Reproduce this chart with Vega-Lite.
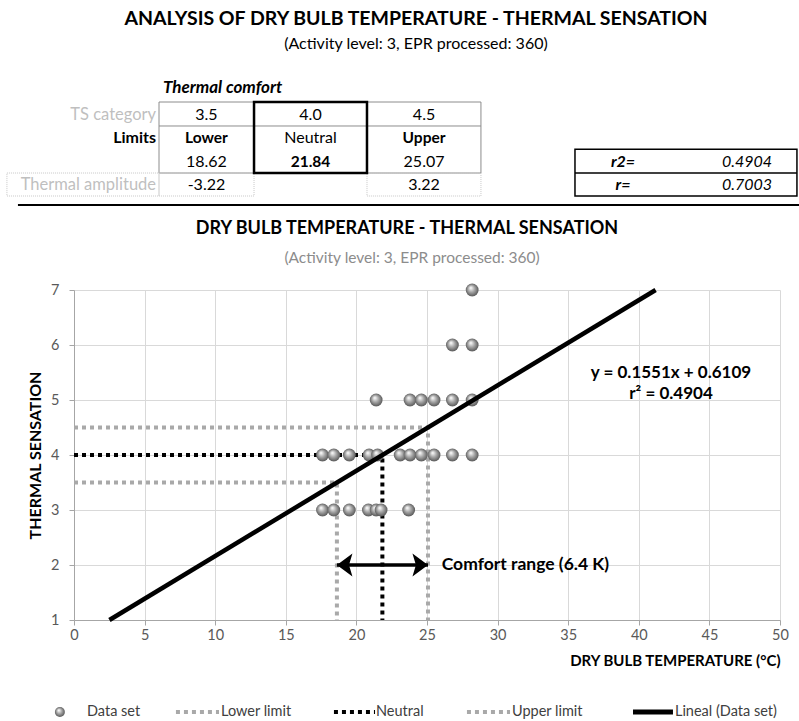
{
  "$schema": "https://vega.github.io/schema/vega-lite/v6.json",
  "width": 706,
  "height": 330,
  "autosize": {"type": "none"},
  "padding": {"left": 74, "top": 290, "right": 19, "bottom": 101},
  "background": "white",
  "config": {"font": "Lato", "view": {"stroke": null}},
  "encoding": {
    "x": {"field": "x", "type": "quantitative",
      "scale": {"domain": [0, 50], "nice": false, "zero": false},
      "axis": {"values": [0,5,10,15,20,25,30,35,40,45,50], "title": "DRY BULB TEMPERATURE (°C)",
        "titleFont": "Lato", "titleFontSize": 15, "titleFontWeight": "bold", "titleColor": "#000000",
        "titleAnchor": "end", "titlePadding": 12,
        "labelFontSize": 14.5, "labelColor": "#595959", "labelPadding": 3, "labelFlush": false,
        "tickSize": 5, "tickColor": "#a6a6a6", "domainColor": "#a6a6a6",
        "grid": true, "gridColor": "#d9d9d9"}},
    "y": {"field": "y", "type": "quantitative",
      "scale": {"domain": [1, 7], "nice": false, "zero": false},
      "axis": {"values": [1,2,3,4,5,6,7], "title": "THERMAL SENSATION",
        "titleFont": "Lato", "titleFontSize": 16, "titleFontWeight": "bold", "titleColor": "#000000",
        "titlePadding": 7,
        "labelFontSize": 14.5, "labelColor": "#595959", "labelPadding": 10, "labelFlush": false,
        "tickSize": 5, "tickColor": "#a6a6a6", "domainColor": "#a6a6a6",
        "grid": true, "gridColor": "#d9d9d9"}}
  },
  "layer": [
    {
      "data": {"values": [
        {"series": "Lower", "ord": 1, "x": 0, "y": 3.5},
        {"series": "Lower", "ord": 2, "x": 18.62, "y": 3.5},
        {"series": "Lower", "ord": 3, "x": 18.62, "y": 1},
        {"series": "Neutral", "ord": 1, "x": 0, "y": 4},
        {"series": "Neutral", "ord": 2, "x": 21.84, "y": 4},
        {"series": "Neutral", "ord": 3, "x": 21.84, "y": 1},
        {"series": "Upper", "ord": 1, "x": 0, "y": 4.5},
        {"series": "Upper", "ord": 2, "x": 25.07, "y": 4.5},
        {"series": "Upper", "ord": 3, "x": 25.07, "y": 1}
      ]},
      "mark": {"type": "line", "strokeWidth": 4, "strokeDash": [4, 4], "strokeCap": "butt"},
      "encoding": {
        "color": {"field": "series", "type": "nominal", "legend": null,
          "scale": {"domain": ["Lower", "Neutral", "Upper"], "range": ["#a9a9a9", "#000000", "#a9a9a9"]}},
        "order": {"field": "ord", "type": "quantitative"}
      }
    },
    {
      "data": {"values": [
        {"x": 17.6, "y": 3}, {"x": 18.4, "y": 3}, {"x": 19.5, "y": 3}, {"x": 20.85, "y": 3}, {"x": 21.4, "y": 3}, {"x": 21.75, "y": 3}, {"x": 23.7, "y": 3},
        {"x": 17.6, "y": 4}, {"x": 18.4, "y": 4}, {"x": 19.5, "y": 4}, {"x": 20.9, "y": 4}, {"x": 21.5, "y": 4}, {"x": 23.1, "y": 4}, {"x": 23.8, "y": 4}, {"x": 24.6, "y": 4}, {"x": 25.5, "y": 4}, {"x": 26.8, "y": 4}, {"x": 28.2, "y": 4},
        {"x": 21.4, "y": 5}, {"x": 23.8, "y": 5}, {"x": 24.6, "y": 5}, {"x": 25.5, "y": 5}, {"x": 26.8, "y": 5}, {"x": 28.2, "y": 5},
        {"x": 26.8, "y": 6}, {"x": 28.2, "y": 6},
        {"x": 28.2, "y": 7}
      ]},
      "mark": {"type": "point", "filled": true, "size": 165, "opacity": 1, "strokeWidth": 0,
        "fill": {"gradient": "radial", "x1": 0.38, "y1": 0.32, "r1": 0.02, "x2": 0.5, "y2": 0.5, "r2": 0.55,
          "stops": [{"offset": 0, "color": "#ffffff"}, {"offset": 0.45, "color": "#a8a8a8"}, {"offset": 1, "color": "#4d4d4d"}]}}
    },
    {
      "data": {"values": [{"x": 2.51, "y": 1}, {"x": 41.19, "y": 7}]},
      "mark": {"type": "line", "color": "#000000", "strokeWidth": 4.5}
    },
    {
      "data": {"values": [{"x": 18.62, "x2": 25.07, "y": 2}]},
      "mark": {"type": "rule", "color": "#000000", "strokeWidth": 3.5},
      "encoding": {"x2": {"field": "x2"}}
    },
    {
      "data": {"values": [{"x": 18.62, "y": 2, "side": "L"}, {"x": 25.07, "y": 2, "side": "R"}]},
      "mark": {"type": "point", "filled": true, "size": 529, "color": "#000000", "opacity": 1},
      "encoding": {"shape": {"field": "side", "type": "nominal", "legend": null,
        "scale": {"domain": ["L", "R"], "range": ["M0,0L1.35,-1L1.05,0L1.35,1Z", "M0,0L-1.35,-1L-1.05,0L-1.35,1Z"]}}}
    },
    {
      "data": {"values": [{"text": "Comfort range (6.4 K)", "x": 26.04, "y": 2}]},
      "mark": {"type": "text", "align": "left", "baseline": "middle", "fontSize": 17.5, "fontWeight": "bold", "color": "#000000"},
      "encoding": {"text": {"field": "text"}}
    },
    {
      "data": {"values": [{"text": "y = 0.1551x + 0.6109", "x": 42.28, "y": 5.491}, {"text": "r² = 0.4904", "x": 42.28, "y": 5.109}]},
      "mark": {"type": "text", "align": "center", "baseline": "middle", "fontSize": 17, "fontWeight": "bold", "color": "#000000"},
      "encoding": {"text": {"field": "text"}}
    },
    {
      "data": {"values": [{"text": "ANALYSIS OF DRY BULB TEMPERATURE - THERMAL SENSATION", "x": 24.22, "y": 11.93}]},
      "mark": {"type": "text", "align": "center", "baseline": "middle", "fontSize": 19.5, "fontWeight": "bold", "color": "#000000"},
      "encoding": {"text": {"field": "text"}}
    },
    {
      "data": {"values": [{"text": "(Activity level: 3, EPR processed: 360)", "x": 24.22, "y": 11.473}]},
      "mark": {"type": "text", "align": "center", "baseline": "middle", "fontSize": 16, "color": "#000000"},
      "encoding": {"text": {"field": "text"}}
    },
    {
      "data": {"values": [{"text": "Thermal comfort", "x": 6.3, "y": 10.673}]},
      "mark": {"type": "text", "align": "left", "baseline": "middle", "fontSize": 17, "fontWeight": "bold", "fontStyle": "italic", "color": "#000000"},
      "encoding": {"text": {"field": "text"}}
    },
    {
      "data": {"values": [{"text": "TS category", "x": 5.81, "y": 10.182}, {"text": "Thermal amplitude", "x": 5.81, "y": 8.909}]},
      "mark": {"type": "text", "align": "right", "baseline": "middle", "fontSize": 16.5, "color": "#bfbfbf"},
      "encoding": {"text": {"field": "text"}}
    },
    {
      "data": {"values": [{"text": "Limits", "x": 5.81, "y": 9.764}]},
      "mark": {"type": "text", "align": "right", "baseline": "middle", "fontSize": 16, "fontWeight": "bold", "color": "#000000"},
      "encoding": {"text": {"field": "text"}}
    },
    {
      "data": {"values": [
        {"text": "3.5", "x": 9.38, "y": 10.182}, {"text": "4.0", "x": 16.75, "y": 10.182}, {"text": "4.5", "x": 24.79, "y": 10.182},
        {"text": "Neutral", "x": 16.75, "y": 9.764},
        {"text": "18.62", "x": 9.38, "y": 9.327}, {"text": "25.07", "x": 24.79, "y": 9.327},
        {"text": "-3.22", "x": 9.38, "y": 8.909}, {"text": "3.22", "x": 24.79, "y": 8.909}
      ]},
      "mark": {"type": "text", "align": "center", "baseline": "middle", "fontSize": 16, "color": "#000000"},
      "encoding": {"text": {"field": "text"}}
    },
    {
      "data": {"values": [
        {"text": "Lower", "x": 9.38, "y": 9.764}, {"text": "Upper", "x": 24.79, "y": 9.764}, {"text": "21.84", "x": 16.75, "y": 9.327}
      ]},
      "mark": {"type": "text", "align": "center", "baseline": "middle", "fontSize": 15.5, "fontWeight": "bold", "color": "#000000"},
      "encoding": {"text": {"field": "text"}}
    },
    {
      "data": {"values": [{"text": "r2=", "x": 38.88, "y": 9.327}, {"text": "r=", "x": 38.88, "y": 8.909}]},
      "mark": {"type": "text", "align": "center", "baseline": "middle", "fontSize": 16, "fontWeight": "bold", "fontStyle": "italic", "color": "#000000"},
      "encoding": {"text": {"field": "text"}}
    },
    {
      "data": {"values": [{"text": "0.4904", "x": 47.66, "y": 9.327}, {"text": "0.7003", "x": 47.66, "y": 8.909}]},
      "mark": {"type": "text", "align": "center", "baseline": "middle", "fontSize": 16, "fontStyle": "italic", "color": "#000000"},
      "encoding": {"text": {"field": "text"}}
    },
    {
      "data": {"values": [{"text": "DRY BULB TEMPERATURE - THERMAL SENSATION", "x": 23.58, "y": 8.109}]},
      "mark": {"type": "text", "align": "center", "baseline": "middle", "fontSize": 18, "fontWeight": "bold", "color": "#000000"},
      "encoding": {"text": {"field": "text"}}
    },
    {
      "data": {"values": [{"text": "(Activity level: 3, EPR processed: 360)", "x": 23.94, "y": 7.582}]},
      "mark": {"type": "text", "align": "center", "baseline": "middle", "fontSize": 15.5, "color": "#8c8c8c"},
      "encoding": {"text": {"field": "text"}}
    },
    {
      "data": {"values": [{"x": 6.02, "x2": 12.75, "y": 9.127, "y2": 10.418}, {"x": 20.75, "x2": 28.82, "y": 9.127, "y2": 10.418}]},
      "mark": {"type": "rect", "fill": null, "stroke": "#8c8c8c", "strokeWidth": 1},
      "encoding": {"x2": {"field": "x2"}, "y2": {"field": "y2"}}
    },
    {
      "data": {"values": [{"x": 6.02, "x2": 28.82, "y": 9.982}]},
      "mark": {"type": "rule", "color": "#8c8c8c", "strokeWidth": 1},
      "encoding": {"x2": {"field": "x2"}}
    },
    {
      "data": {"values": [{"x": -4.75, "x2": 6.02, "y": 8.709, "y2": 9.127}, {"x": 6.02, "x2": 12.75, "y": 8.709, "y2": 9.127}, {"x": 20.75, "x2": 28.82, "y": 8.709, "y2": 9.127}]},
      "mark": {"type": "rect", "fill": null, "stroke": "#c8c8c8", "strokeWidth": 1, "strokeDash": [1, 1]},
      "encoding": {"x2": {"field": "x2"}, "y2": {"field": "y2"}}
    },
    {
      "data": {"values": [{"x": 12.75, "x2": 20.75, "y": 9.127, "y2": 10.418}]},
      "mark": {"type": "rect", "fill": null, "stroke": "#000000", "strokeWidth": 2.5},
      "encoding": {"x2": {"field": "x2"}, "y2": {"field": "y2"}}
    },
    {
      "data": {"values": [{"x": 35.48, "x2": 51.2, "y": 8.709, "y2": 9.56}]},
      "mark": {"type": "rect", "fill": null, "stroke": "#000000", "strokeWidth": 1.5},
      "encoding": {"x2": {"field": "x2"}, "y2": {"field": "y2"}}
    },
    {
      "data": {"values": [{"x": 35.48, "x2": 51.2, "y": 9.127}]},
      "mark": {"type": "rule", "color": "#000000", "strokeWidth": 1.5},
      "encoding": {"x2": {"field": "x2"}}
    },
    {
      "data": {"values": [{"x": -3.97, "x2": 51.35, "y": 8.545}]},
      "mark": {"type": "rule", "color": "#000000", "strokeWidth": 2},
      "encoding": {"x2": {"field": "x2"}}
    },
    {
      "data": {"values": [{"x": -1.0, "y": -0.673}]},
      "mark": {"type": "point", "filled": true, "size": 100, "opacity": 1, "strokeWidth": 0,
        "fill": {"gradient": "radial", "x1": 0.38, "y1": 0.32, "r1": 0.02, "x2": 0.5, "y2": 0.5, "r2": 0.55,
          "stops": [{"offset": 0, "color": "#ffffff"}, {"offset": 0.45, "color": "#a8a8a8"}, {"offset": 1, "color": "#4d4d4d"}]}}
    },
    {
      "data": {"values": [{"x": 7.22, "x2": 10.27, "y": -0.673}, {"x": 27.83, "x2": 30.88, "y": -0.673}]},
      "mark": {"type": "rule", "color": "#a9a9a9", "strokeWidth": 4, "strokeDash": [4, 4], "strokeCap": "butt"},
      "encoding": {"x2": {"field": "x2"}}
    },
    {
      "data": {"values": [{"x": 18.41, "x2": 21.32, "y": -0.673}]},
      "mark": {"type": "rule", "color": "#000000", "strokeWidth": 4, "strokeDash": [4, 4], "strokeCap": "butt"},
      "encoding": {"x2": {"field": "x2"}}
    },
    {
      "data": {"values": [{"x": 39.59, "x2": 42.42, "y": -0.673}]},
      "mark": {"type": "rule", "color": "#000000", "strokeWidth": 5},
      "encoding": {"x2": {"field": "x2"}}
    },
    {
      "data": {"values": [
        {"text": "Data set", "x": 0.92, "y": -0.673},
        {"text": "Lower limit", "x": 10.41, "y": -0.673},
        {"text": "Neutral", "x": 21.39, "y": -0.673},
        {"text": "Upper limit", "x": 31.02, "y": -0.673},
        {"text": "Lineal (Data set)", "x": 42.56, "y": -0.673}
      ]},
      "mark": {"type": "text", "align": "left", "baseline": "middle", "fontSize": 14.5, "color": "#404040"},
      "encoding": {"text": {"field": "text"}}
    }
  ]
}
